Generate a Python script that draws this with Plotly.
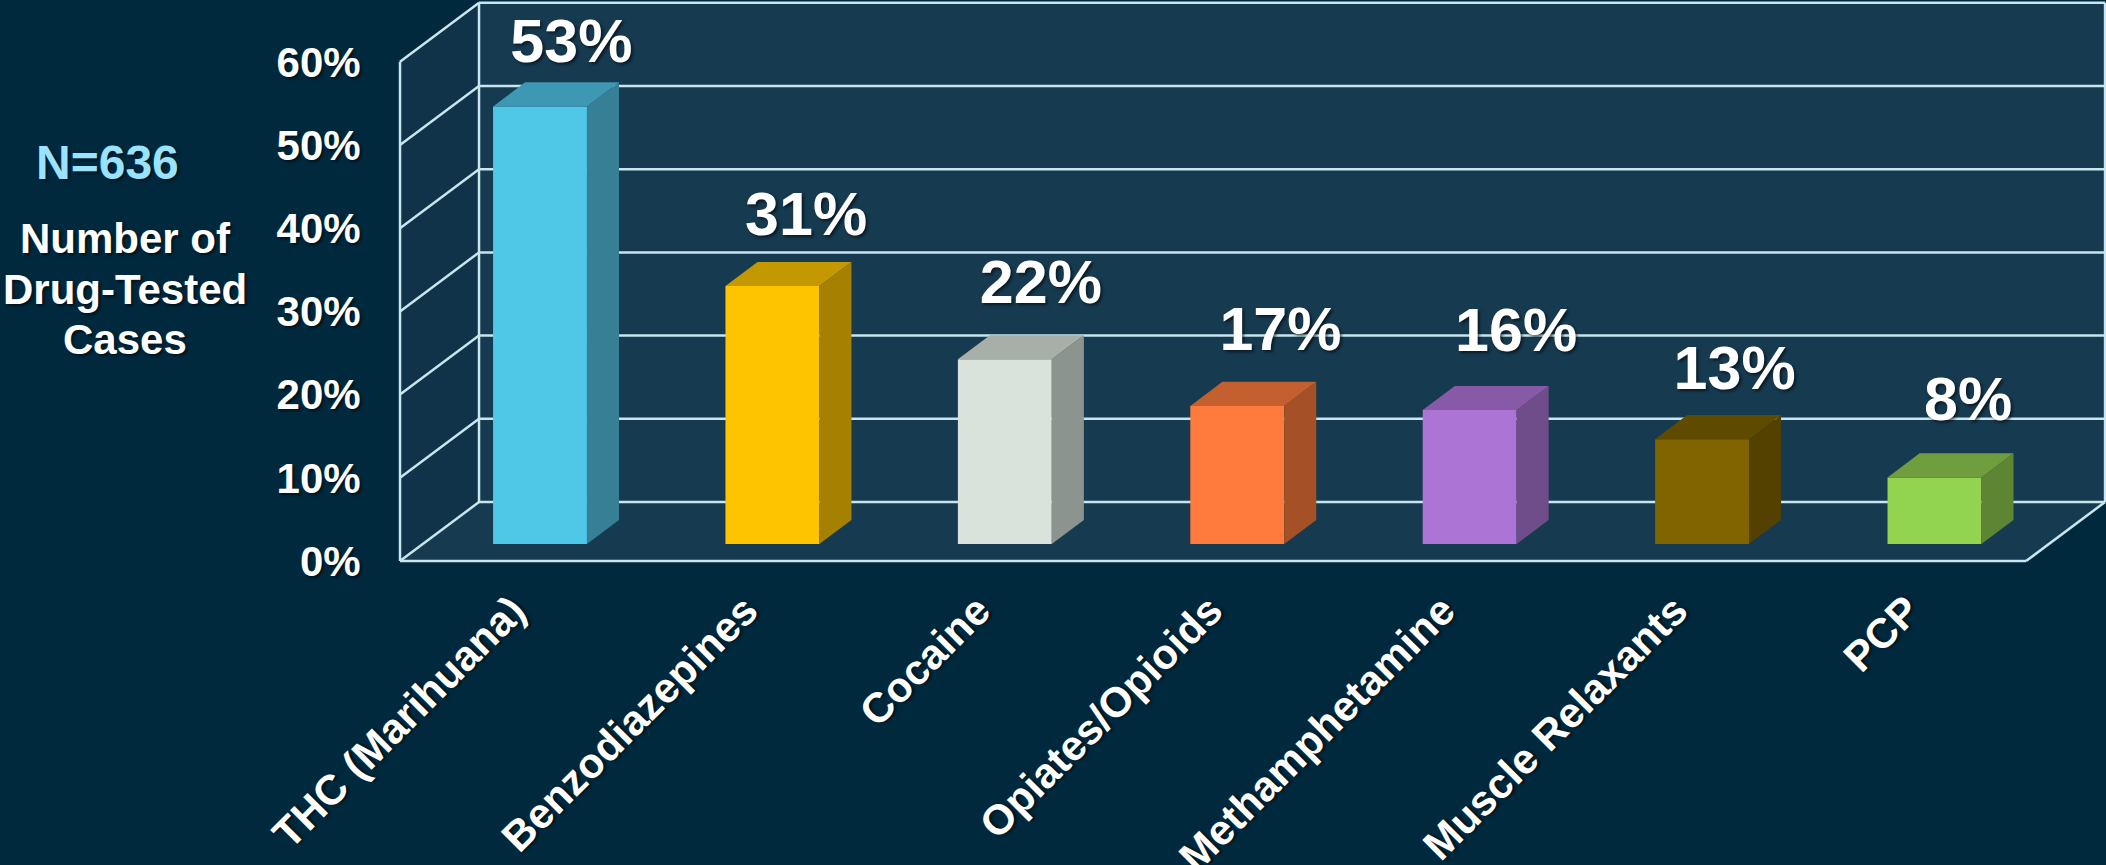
import plotly.graph_objects as go

categories = ["THC (Marihuana)", "Benzodiazepines", "Cocaine", "Opiates/Opioids",
              "Methamphetamine", "Muscle Relaxants", "PCP"]
values = [52.6, 31.0, 22.2, 16.6, 16.1, 12.6, 8.0]
y_ticks = [0, 10, 20, 30, 40, 50, 60]
y_tick_labels = ["0%", "10%", "20%", "30%", "40%", "50%", "60%"]
face_colors = ["#4FC8E8", "#FFC400", "#D9E3DB", "#FF7A3D", "#AC74D4", "#806400", "#92D350"]
side_colors = ["#367F95", "#A68000", "#8C948F", "#A65028", "#6F4C8A", "#544100", "#5E8534"]
top_colors = ["#3E97B3", "#C49900", "#A8AFA8", "#C45F30", "#865AA6", "#5F4B00", "#709D3D"]
label_dx = [0.135, 0.145, 0.155, 0.186, 0.20, 0.14, 0.145]
label_dy = [4.3, 5.13, 5.7, 5.7, 6.0, 4.93, 5.9]

BG = "#00293E"
WALL = "#163A50"
SIDE = "#10334A"
LINE = "#C9E6EE"
FONT = "Liberation Sans"
SHADOW = "2px 2px 3px rgba(0,0,0,0.55)"

# oblique-projection parameters, in axis units
WALL_DX, WALL_DY = 0.34, 7.09
BAR_W, BAR_DX, BAR_DY, BAR_BASE = 0.404, 0.138, 2.9, 2.04
X_L, X_R = -0.6024, 6.394
Y_TOP = y_ticks[-1]


def poly(xs, ys, fill):
    return dict(type="path", layer="below", xref="x", yref="y", line_width=0, fillcolor=fill,
                path="M" + " L".join(f"{a},{b}" for a, b in zip(xs, ys)) + " Z")


def seg(x0, y0, x1, y1):
    return dict(type="line", layer="below", xref="x", yref="y", x0=x0, y0=y0, x1=x1, y1=y1,
                line=dict(color=LINE, width=2.5))


shapes = [
    poly([X_L + WALL_DX, X_R + WALL_DX, X_R + WALL_DX, X_L + WALL_DX],
         [WALL_DY, WALL_DY, Y_TOP + WALL_DY, Y_TOP + WALL_DY], WALL),
    poly([X_L, X_L + WALL_DX, X_L + WALL_DX, X_L],
         [0, WALL_DY, Y_TOP + WALL_DY, Y_TOP], SIDE),
    poly([X_L, X_R, X_R + WALL_DX, X_L + WALL_DX], [0, 0, WALL_DY, WALL_DY], WALL),
]
for t in y_ticks:
    shapes.append(seg(X_L, t, X_L + WALL_DX, t + WALL_DY))
    shapes.append(seg(X_L + WALL_DX, t + WALL_DY, X_R + WALL_DX, t + WALL_DY))
shapes += [
    seg(X_L, 0, X_L, Y_TOP),
    seg(X_L + WALL_DX, WALL_DY, X_L + WALL_DX, Y_TOP + WALL_DY),
    seg(X_R + WALL_DX, WALL_DY, X_R + WALL_DX, Y_TOP + WALL_DY),
    seg(X_L, 0, X_R, 0),
    seg(X_R, 0, X_R + WALL_DX, WALL_DY),
]

positions = list(range(len(categories)))
fig = go.Figure()
fig.add_trace(go.Bar(x=positions, y=values, base=[BAR_BASE] * len(values), width=BAR_W,
                     marker=dict(color=face_colors, line_width=0), hoverinfo="skip"))

for i, v in enumerate(values):
    xr = i + BAR_W / 2
    xl = i - BAR_W / 2
    b = BAR_BASE
    t = BAR_BASE + v
    fig.add_trace(go.Scatter(x=[xr, xr + BAR_DX, xr + BAR_DX, xr, xr],
                             y=[b, b + BAR_DY, t + BAR_DY, t, b],
                             mode="lines", fill="toself", fillcolor=side_colors[i],
                             line_width=0, hoverinfo="skip"))
    fig.add_trace(go.Scatter(x=[xl, xr, xr + BAR_DX, xl + BAR_DX, xl],
                             y=[t, t, t + BAR_DY, t + BAR_DY, t],
                             mode="lines", fill="toself", fillcolor=top_colors[i],
                             line_width=0, hoverinfo="skip"))

fig.add_trace(go.Scatter(
    x=[i + d for i, d in zip(positions, label_dx)],
    y=[BAR_BASE + v + BAR_DY + d for v, d in zip(values, label_dy)],
    mode="text", text=[f"{round(v)}%" for v in values], textposition="middle center",
    textfont=dict(family=FONT, size=61, color="white", weight="bold", shadow=SHADOW),
    hoverinfo="skip", cliponaxis=False))


def note(text, x, y, size, color="white"):
    return dict(text=text, xref="paper", yref="paper", x=x, y=y, showarrow=False,
                font=dict(family=FONT, size=size, color=color, weight="bold", shadow=SHADOW),
                xanchor="center", yanchor="middle", align="center")


L, H, W, PH = 396, 865, 2106, 565
def px(x):
    return (x - L) / (W - L)
def py(y):
    return 1 - y / PH


annotations = [
    note("N=636", px(107), py(162), 48, "#99E3FF"),
    note("Number of", px(125), py(238), 42),
    note("Drug-Tested", px(125), py(289), 42),
    note("Cases", px(125), py(339), 42),
]

fig.update_layout(
    width=W, height=H, autosize=False,
    margin=dict(l=L, r=0, t=0, b=H - PH, pad=0),
    paper_bgcolor=BG, plot_bgcolor=BG, showlegend=False,
    barmode="overlay", shapes=shapes, annotations=annotations,
    xaxis=dict(range=[-0.6196, 6.738], tickmode="array", tickvals=positions, ticktext=categories,
               tickangle=-45, showgrid=False, zeroline=False, showline=False,
               ticks="outside", ticklen=3, tickcolor="rgba(0,0,0,0)", ticklabelshift=-27,
               tickfont=dict(family=FONT, size=42, color="white", weight="bold", shadow=SHADOW),
               automargin=False, fixedrange=True),
    yaxis=dict(range=[-0.48, 67.43], tickmode="array", tickvals=y_ticks, ticktext=y_tick_labels,
               showgrid=False, zeroline=False, showline=False,
               ticks="outside", ticklen=26, tickcolor="rgba(0,0,0,0)",
               tickfont=dict(family=FONT, size=42, color="white", weight="bold", shadow=SHADOW),
               automargin=False, fixedrange=True),
)
fig.write_html("out.html", config=dict(displayModeBar=False),
               post_script=f"document.body.style.margin='0';document.body.style.background='{BG}';"
                           "document.documentElement.style.overflow='hidden';")
